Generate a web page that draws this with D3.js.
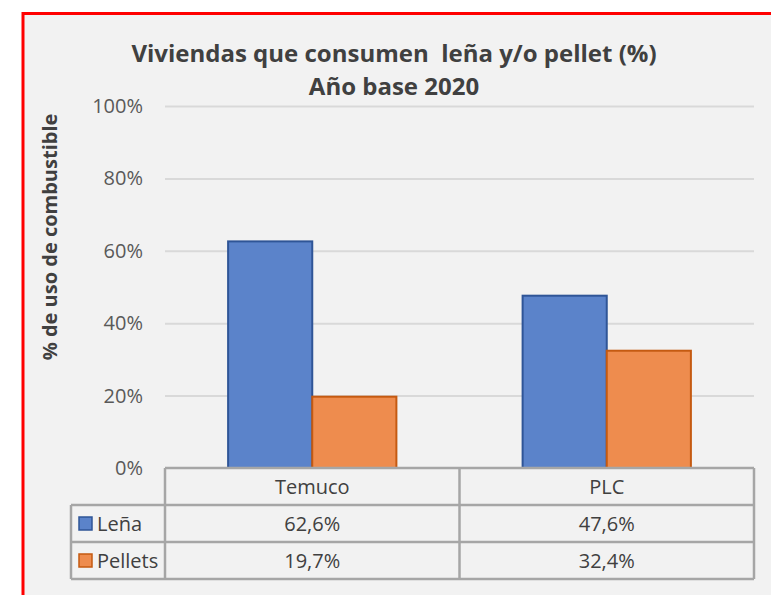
<!DOCTYPE html>
<meta charset="utf-8">
<head>
    <title>Viviendas que consumen leña y/o pellet</title>
    <script src="https://d3js.org/d3.v7.min.js"></script>
</head>

<style>
body { margin: 0; background: #ffffff; }
svg { display: block; font-family: "Open Sans", "Noto Sans", sans-serif; }
</style>

<body>

<svg></svg>

<script>

// data
let categories = ["Temuco", "PLC"];
let seriesNames = ["Leña", "Pellets"];
let lena = [62.6, 47.6];
let pellets = [19.7, 32.4];
let yTicks = [0, 20, 40, 60, 80, 100];
let colors = ["#5b83ca", "#ee8c4e"];
let strokes = ["#2f5597", "#c55a11"];

let values = [lena, pellets];

let W = 771, H = 595;
let plot = {left: 165, right: 754, top: 106, bottom: 468};
let rowH = 37;
let fs = 20;

let svg = d3.select("svg")
    .attr("width", W)
    .attr("height", H);

// chart area with the red frame
svg.append("rect")
  .attr("x", 23)
  .attr("y", 13.5)
  .attr("width", 800)
  .attr("height", 640)
  .attr("fill", "#f2f2f2")
  .attr("stroke", "#ff0000")
  .attr("stroke-width", 3);

// title
let title = svg.append("text")
  .attr("text-anchor", "middle")
  .attr("fill", "#404040")
  .attr("font-weight", "bold")
  .attr("font-size", 24)
  .style("white-space", "pre");
title.append("tspan").attr("x", 394).attr("y", 62).text("Viviendas que consumen  leña y/o pellet (%)");
title.append("tspan").attr("x", 394).attr("y", 95).text("Año base 2020");

// scales
let x = d3.scaleBand()
  .domain(categories)
  .range([plot.left, plot.right])
  .padding(0);

let xs = d3.scaleBand()
  .domain(seriesNames)
  .range([0, x.bandwidth()])
  .paddingInner(0)
  .paddingOuter(0.75);

let y = d3.scaleLinear()
  .domain([0, 100])
  .range([plot.bottom, plot.top]);

// gridlines
svg.append("g")
  .attr("class", "grid")
  .attr("transform", "translate(" + plot.left + ",0)")
  .call(d3.axisLeft(y).tickValues(yTicks.slice(1)).tickSize(-(plot.right - plot.left)).tickFormat(""))
  .call(g => g.select(".domain").remove())
  .call(g => g.selectAll("line").attr("stroke", "#d9d9d9").attr("stroke-width", 2));

// y axis labels
svg.append("g")
  .attr("transform", "translate(" + plot.left + ",0)")
  .call(d3.axisLeft(y).tickValues(yTicks).tickSize(0).tickPadding(22).tickFormat(d => d + "%"))
  .call(g => g.select(".domain").remove())
  .call(g => g.selectAll("text")
    .attr("fill", "#595959")
    .attr("font-size", fs)
    .attr("font-family", "'Open Sans', sans-serif"));

// y axis title
svg.append("text")
  .attr("transform", "translate(57,237) rotate(-90)")
  .attr("text-anchor", "middle")
  .attr("fill", "#404040")
  .attr("font-weight", "bold")
  .attr("font-size", fs)
  .text("% de uso de combustible");

// bars
seriesNames.forEach(function(s, si) {
  svg.append("g")
    .selectAll("rect")
    .data(categories)
    .enter()
    .append("rect")
    .attr("x", d => x(d) + xs(s))
    .attr("y", (d, i) => y(values[si][i]))
    .attr("width", xs.bandwidth())
    .attr("height", (d, i) => y(0) - y(values[si][i]))
    .attr("fill", colors[si])
    .attr("stroke", strokes[si])
    .attr("stroke-width", 2);
});

// data table under the chart
let tbl = svg.append("g").attr("class", "table");
let lineColor = "#a6a6a6";
let legendLeft = 71;
let tableBottom = plot.bottom + rowH * 3;

function hline(x1, x2, yy) {
  tbl.append("line").attr("x1", x1).attr("x2", x2).attr("y1", yy).attr("y2", yy)
    .attr("stroke", lineColor).attr("stroke-width", 2.5);
}
function vline(xx, y1, y2) {
  tbl.append("line").attr("x1", xx).attr("x2", xx).attr("y1", y1).attr("y2", y2)
    .attr("stroke", lineColor).attr("stroke-width", 2.5);
}

hline(plot.left, plot.right, plot.bottom);
hline(legendLeft, plot.right, plot.bottom + rowH);
hline(legendLeft, plot.right, plot.bottom + rowH * 2);
hline(legendLeft, plot.right, tableBottom);
vline(legendLeft, plot.bottom + rowH, tableBottom);
vline(plot.left, plot.bottom, tableBottom);
categories.forEach(function(c) {
  vline(x(c) + x.bandwidth(), plot.bottom, tableBottom);
});

// category header row
tbl.selectAll(".cat")
  .data(categories)
  .enter()
  .append("text")
  .attr("class", "cat")
  .attr("x", d => x(d) + x.bandwidth() / 2)
  .attr("y", plot.bottom + rowH / 2)
  .attr("dy", "0.35em")
  .attr("text-anchor", "middle")
  .attr("fill", "#404040")
  .attr("font-size", fs)
  .text(d => d);

// series rows
seriesNames.forEach(function(s, si) {
  let cy = plot.bottom + rowH * (si + 1) + rowH / 2;
  tbl.append("rect")
    .attr("x", 79)
    .attr("y", cy - 6.5)
    .attr("width", 13)
    .attr("height", 13)
    .attr("fill", colors[si])
    .attr("stroke", strokes[si])
    .attr("stroke-width", 1.5);
  tbl.append("text")
    .attr("x", 97)
    .attr("y", cy)
    .attr("dy", "0.35em")
    .attr("fill", "#404040")
    .attr("font-size", fs)
    .text(s);
  tbl.selectAll(".val" + si)
    .data(categories)
    .enter()
    .append("text")
    .attr("x", d => x(d) + x.bandwidth() / 2)
    .attr("y", cy)
    .attr("dy", "0.35em")
    .attr("text-anchor", "middle")
    .attr("fill", "#404040")
    .attr("font-size", fs)
    .text((d, i) => values[si][i].toFixed(1).replace(".", ",") + "%");
});

</script>

</body>
